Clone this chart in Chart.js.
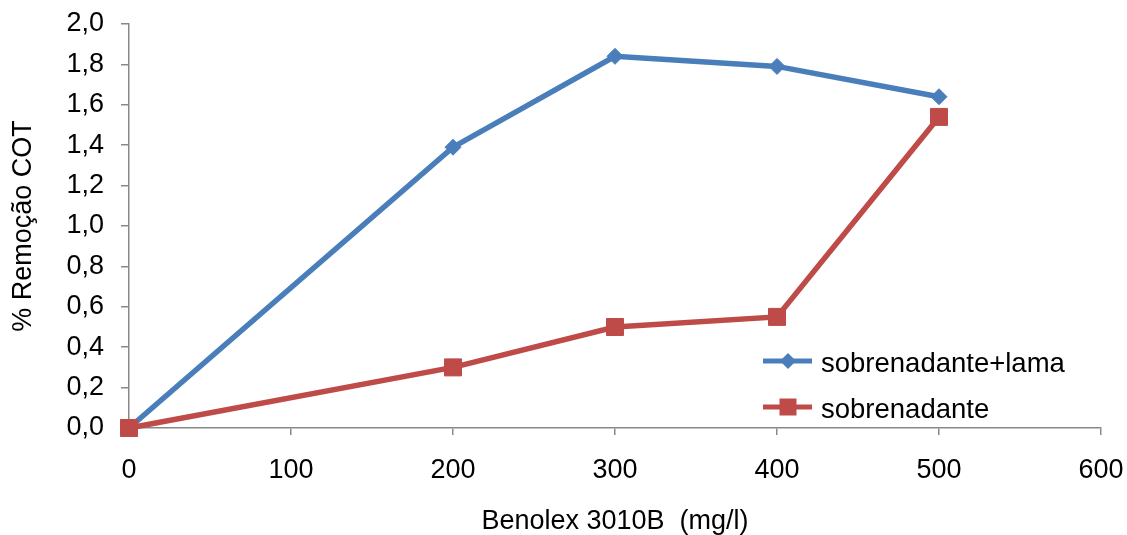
<!DOCTYPE html>
<html>
<head>
<meta charset="utf-8">
<script src="https://cdn.jsdelivr.net/npm/chart.js@4.4.0/dist/chart.umd.min.js"></script>
<style>
  body { margin: 0; background: #fff; }
  #wrap { width: 1127px; height: 535px; }
</style>
</head>
<body>
<div id="wrap"><canvas id="chart" width="1127" height="535"></canvas></div>
<script>
// data
const doses = [0, 200, 300, 400, 500];
const sobrenadanteLama = [0, 1.39, 1.84, 1.79, 1.64];
const sobrenadante = [0, 0.30, 0.50, 0.55, 1.54];
const seriesNames = ['sobrenadante+lama', 'sobrenadante'];

const blue = '#4A7EBB';
const red = '#BE4B48';
const axisGray = '#888888';

Chart.defaults.font.family = '"Liberation Sans", Arial, sans-serif';
Chart.defaults.color = '#000';

function toPoints(xs, ys) {
  return xs.map((x, i) => ({ x: x, y: ys[i] }));
}

// legend drawn inside the plot, bottom right
const insideLegend = {
  id: 'insideLegend',
  afterDraw(chart) {
    const ctx = chart.ctx;
    const rows = [
      { label: seriesNames[0], color: blue, shape: 'diamond', y: 361, base: 372 },
      { label: seriesNames[1], color: red, shape: 'square', y: 407, base: 418 }
    ];
    ctx.save();
    rows.forEach(r => {
      ctx.strokeStyle = r.color;
      ctx.lineWidth = 5;
      ctx.beginPath();
      ctx.moveTo(763, r.y);
      ctx.lineTo(812, r.y);
      ctx.stroke();
      ctx.fillStyle = r.color;
      ctx.beginPath();
      if (r.shape === 'diamond') {
        ctx.moveTo(788 - 8, r.y);
        ctx.lineTo(788, r.y - 8);
        ctx.lineTo(788 + 8, r.y);
        ctx.lineTo(788, r.y + 8);
        ctx.closePath();
      } else {
        ctx.rect(788 - 8.5, r.y - 8.5, 17, 17);
      }
      ctx.fill();
      ctx.fillStyle = '#000';
      ctx.font = '27.5px "Liberation Sans", Arial, sans-serif';
      ctx.textBaseline = 'alphabetic';
      ctx.textAlign = 'left';
      ctx.fillText(r.label, 821, r.base);
    });
    ctx.restore();
  }
};

const ctx = document.getElementById('chart').getContext('2d');
const chart = new Chart(ctx, {
  type: 'line',
  data: {
    datasets: [{
      label: seriesNames[0],
      data: toPoints(doses, sobrenadanteLama),
      borderColor: blue,
      backgroundColor: blue,
      borderWidth: 5.5,
      pointStyle: 'rectRot',
      pointRadius: 8,
      pointBorderWidth: 1,
      tension: 0,
      clip: false,
      order: 2
    }, {
      label: seriesNames[1],
      data: toPoints(doses, sobrenadante),
      borderColor: red,
      backgroundColor: red,
      borderWidth: 5.5,
      pointStyle: 'rect',
      pointRadius: 12,
      pointBorderWidth: 1,
      tension: 0,
      clip: false,
      order: 1
    }]
  },
  options: {
    responsive: false,
    animation: false,
    devicePixelRatio: 1,
    layout: { padding: { top: 24, right: 26, bottom: 0, left: 0 } },
    plugins: {
      legend: { display: false },
      tooltip: { enabled: false }
    },
    scales: {
      x: {
        type: 'linear',
        min: 0,
        max: 600,
        afterFit(scale) {
          scale.height = 107;
          scale.paddingLeft = 0;
          scale.paddingRight = 0;
        },
        ticks: { stepSize: 100, padding: 19, font: { size: 27 } },
        grid: { drawOnChartArea: false, drawTicks: true, tickLength: 7, color: axisGray, lineWidth: 1.5 },
        border: { display: true, color: axisGray, width: 1.5 },
        title: {
          display: true,
          text: 'Benolex 3010B  (mg/l)',
          font: { size: 27, lineHeight: 1 },
          padding: { top: 0, bottom: 0 }
        }
      },
      y: {
        min: 0,
        max: 2,
        afterFit(scale) {
          scale.width = 129;
          scale.paddingTop = 0;
          scale.paddingBottom = 0;
        },
        ticks: {
          stepSize: 0.2,
          padding: 17,
          font: { size: 27 },
          callback: v => v.toFixed(1).replace('.', ',')
        },
        grid: { drawOnChartArea: false, drawTicks: true, tickLength: 8, color: axisGray, lineWidth: 1.5 },
        border: { display: true, color: axisGray, width: 1.5 },
        title: {
          display: true,
          text: '% Remoção COT',
          font: { size: 27, lineHeight: 1 },
          padding: { top: 10, bottom: 0 }
        }
      }
    }
  },
  plugins: [insideLegend]
});
</script>
</body>
</html>
